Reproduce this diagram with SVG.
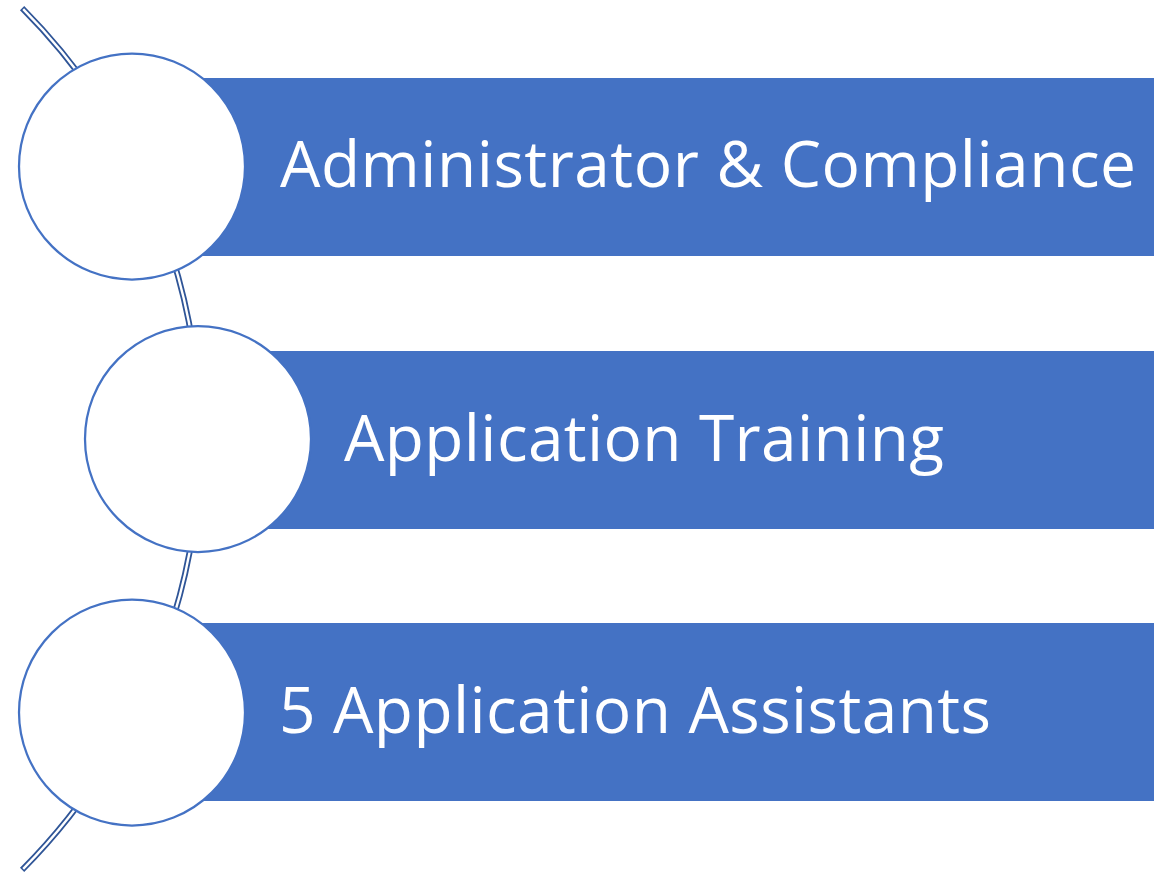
<svg xmlns="http://www.w3.org/2000/svg" width="1164" height="873" viewBox="0 0 1164 873">
<style>
.bar{fill:#4472C4}
.disc{fill:#FFFFFF;stroke:#4472C4;stroke-width:2.25}
.lbl{fill:#FFFFFF;font-family:"Open Sans","Noto Sans","Liberation Sans",sans-serif;font-size:64px}
.arcOut{fill:none;stroke:#2F5597;stroke-width:6}
.arcIn{fill:none;stroke:#FFFFFF;stroke-width:2.4}
</style>
<rect width="1164" height="873" fill="#FFFFFF"/>
<g id="connectors">
<path class="arcOut" d="M 22.1 8.1 A 610.7 610.7 0 0 1 22.1 869.9"/>
<path class="arcIn" d="M 23.2 9.2 A 610.7 610.7 0 0 1 23.2 868.8"/>
</g>
<g id="node1">
<rect class="bar" x="132" y="78" width="1022" height="178"/>
<circle class="disc" cx="132" cy="166.5" r="113"/>
<text class="lbl" x="280" y="187" textLength="856" lengthAdjust="spacing">Administrator &amp; Compliance</text>
</g>
<g id="node2">
<rect class="bar" x="198" y="351" width="956" height="178"/>
<circle class="disc" cx="198" cy="439" r="113"/>
<text class="lbl" x="344" y="461" textLength="600" lengthAdjust="spacing">Application Training</text>
</g>
<g id="node3">
<rect class="bar" x="132" y="623" width="1022" height="178"/>
<circle class="disc" cx="132" cy="712.5" r="113"/>
<text class="lbl" x="279" y="733" textLength="712" lengthAdjust="spacing">5 Application Assistants</text>
</g>
</svg>
